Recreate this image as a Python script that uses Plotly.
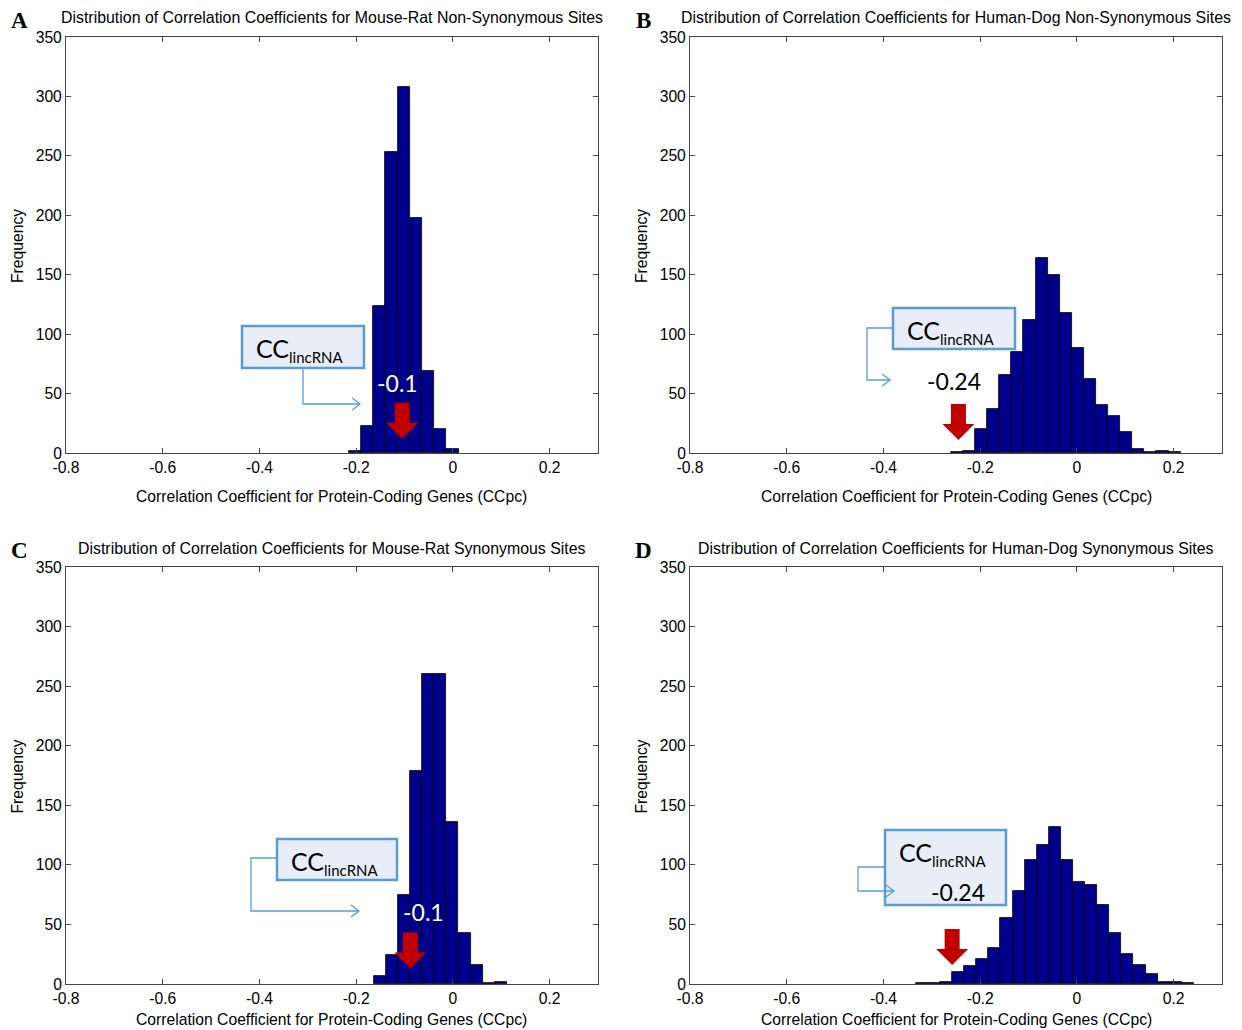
import plotly.graph_objects as go

# page body has an 8px margin, so the figure is offset by it inside the window
OFF = 8
W, H = 1242 - OFF, 1030 - OFF

# ---------------- data ----------------
a_centers = [-0.2026, -0.1774, -0.1522, -0.1270, -0.1018, -0.0766, -0.0514, -0.0262, -0.0010]
a_counts = [2, 23, 124, 253, 308, 198, 69, 20, 3]

b_centers = [-0.248, -0.223, -0.198, -0.173, -0.148, -0.123, -0.098, -0.073, -0.048, -0.023,
             0.002, 0.027, 0.052, 0.077, 0.102, 0.127, 0.152, 0.177, 0.202]
b_counts = [1, 2, 20, 37, 66, 85, 112, 164, 150, 118, 88, 62, 40, 31, 18, 3, 1, 2, 1]

c_centers = [-0.1516, -0.1265, -0.1014, -0.0764, -0.0513, -0.0262, -0.0011, 0.0240, 0.0490, 0.0741, 0.0992]
c_counts = [7, 24, 75, 179, 260, 260, 136, 43, 16, 1, 2]

d_centers = [-0.3205, -0.2955, -0.2705, -0.2455, -0.2205, -0.1955, -0.1705, -0.1455, -0.1205, -0.0955,
             -0.0705, -0.0455, -0.0205, 0.0045, 0.0295, 0.0545, 0.0795, 0.1045, 0.1295, 0.1545,
             0.1795, 0.2045, 0.2295]
d_counts = [1, 1, 2, 10, 15, 21, 30, 55, 78, 104, 117, 132, 104, 86, 83, 66, 43, 25, 16, 8, 2, 2, 1]

bin_widths = [0.0252, 0.025, 0.0251, 0.025]

titles = [
    "Distribution of Correlation Coefficients for Mouse-Rat Non-Synonymous Sites",
    "Distribution of Correlation Coefficients for Human-Dog Non-Synonymous Sites",
    "Distribution of Correlation Coefficients for Mouse-Rat Synonymous Sites",
    "Distribution of Correlation Coefficients for Human-Dog Synonymous Sites",
]
panel_letters = ["A", "B", "C", "D"]
cc_lincrna_labels = ["-0.1", "-0.24", "-0.1", "-0.24"]
arrow_x = [-0.105, -0.245, -0.088, -0.258]     # red arrow position (CC_lincRNA)
arrow_tip_y = [12, 11, 13, 16]

x_tickvals = [-0.8, -0.6, -0.4, -0.2, 0, 0.2]
x_ticktext = ["-0.8", "-0.6", "-0.4", "-0.2", "0", "0.2"]
y_tickvals = [0, 50, 100, 150, 200, 250, 300, 350]
x_range = [-0.8, 0.3]
y_range = [0, 350]
xlabel = "Correlation Coefficient for Protein-Coding Genes (CCpc)"
ylabel = "Frequency"

centers = [a_centers, b_centers, c_centers, d_centers]
counts = [a_counts, b_counts, c_counts, d_counts]

# ---------------- layout geometry (window pixels) ----------------
areas = [(66, 598, 37, 453), (690, 1222, 37, 453), (66, 598, 567, 984), (690, 1222, 567, 984)]


def px(x):
    return (x - OFF) / W


def py(y):
    return 1 - (y - OFF) / H


AX_FONT = "Liberation Sans, Arial, sans-serif"
CALLOUT_FONT = "Lato, Open Sans, sans-serif"
BAR_COLOR = "rgb(0,0,140)"
CALLOUT_LINE = "#5b9bd5"
CALLOUT_FILL = "#e8edf7"
TXT = 15.7

fig = go.Figure()
layout = dict(width=W, height=H, margin=dict(l=0, r=0, t=0, b=0, autoexpand=False),
              paper_bgcolor="white", plot_bgcolor="white", showlegend=False,
              bargap=0, shapes=[], annotations=[])

for i in range(4):
    l, r, t, b = areas[i]
    sfx = "" if i == 0 else str(i + 1)
    xa, ya = "x" + sfx, "y" + sfx
    fig.add_trace(go.Bar(x=centers[i], y=counts[i], width=bin_widths[i], xaxis=xa, yaxis=ya,
                         marker=dict(color=BAR_COLOR, line=dict(color="black", width=0.8)),
                         hoverinfo="x+y"))
    common = dict(showgrid=False, zeroline=False, showline=True, linecolor="#444", linewidth=1,
                  mirror="ticks", ticks="inside", ticklen=5, tickcolor="#444", automargin=False,
                  tickfont=dict(family=AX_FONT, size=TXT, color="black"))
    layout["xaxis" + sfx] = dict(common, domain=[px(l), px(r)], range=x_range, anchor=ya,
                                 tickvals=x_tickvals, ticktext=x_ticktext)
    layout["yaxis" + sfx] = dict(common, domain=[py(b), py(t)], range=y_range, anchor=xa,
                                 tickvals=y_tickvals)
    layout["annotations"].append(dict(text=titles[i], xref="paper", yref="paper",
                                      x=px((l + r) / 2), y=py(t - 19), showarrow=False,
                                      font=dict(family=AX_FONT, size=15.9, color="black"),
                                      xanchor="center", yanchor="middle"))
    layout["annotations"].append(dict(text="<b>" + panel_letters[i] + "</b>", xref="paper", yref="paper",
                                      x=px(l - 47), y=py(t - 17), showarrow=False,
                                      font=dict(family="Liberation Serif, Times New Roman, serif",
                                                size=23, color="black"),
                                      xanchor="center", yanchor="middle"))
    xl_y = b + 44 if i < 2 else b + 35
    layout["annotations"].append(dict(text=xlabel, xref="paper", yref="paper",
                                      x=px((l + r) / 2), y=py(xl_y), showarrow=False,
                                      font=dict(family=AX_FONT, size=TXT, color="black"),
                                      xanchor="center", yanchor="middle"))
    layout["annotations"].append(dict(text=ylabel, xref="paper", yref="paper",
                                      x=px(l - 49), y=py((t + b) / 2 + 1), showarrow=False,
                                      textangle=-90,
                                      font=dict(family=AX_FONT, size=TXT, color="black"),
                                      xanchor="center", yanchor="middle"))
    layout["shapes"].append(dict(type="path", xref=xa, yref=ya, xsizemode="pixel", ysizemode="pixel",
                                 xanchor=arrow_x[i], yanchor=arrow_tip_y[i],
                                 path="M 0 0 L -16 16 L -7.5 16 L -7.5 36 L 7.5 36 L 7.5 16 L 16 16 Z",
                                 fillcolor="#c00000", line=dict(width=0), layer="above"))

# ---------------- callouts (window pixel geometry) ----------------
callouts = [
    dict(box=(242, 326, 364, 368), line=[(303, 368), (303, 404), (360, 404)],
         val=(397, 383), val_color="white"),
    dict(box=(893, 308, 1015, 349), line=[(893, 328), (867, 328), (867, 380), (890, 380)],
         val=(954, 381), val_color="black"),
    dict(box=(277, 839, 397, 880), line=[(277, 858), (251, 858), (251, 911), (359, 911)],
         val=(423, 912), val_color="white"),
    dict(box=(885, 830, 1006, 905), line=[(885, 867), (858, 867), (858, 891), (894, 891)],
         val=(958, 892), val_color="black"),
]

for i, c in enumerate(callouts):
    x0, y0, x1, y1 = c["box"]
    layout["shapes"].append(dict(type="rect", xref="paper", yref="paper",
                                 x0=px(x0), x1=px(x1), y0=py(y1), y1=py(y0),
                                 fillcolor=CALLOUT_FILL, line=dict(color=CALLOUT_LINE, width=2.5),
                                 layer="above"))
    pts = c["line"]
    path = "M " + " L ".join(f"{px(xx)} {py(yy)}" for xx, yy in pts)
    layout["shapes"].append(dict(type="path", xref="paper", yref="paper", path=path,
                                 line=dict(color=CALLOUT_LINE, width=1.3), layer="above"))
    ex, ey = pts[-1]
    head = f"M {px(ex - 8)} {py(ey - 6)} L {px(ex)} {py(ey)} L {px(ex - 8)} {py(ey + 6)}"
    layout["shapes"].append(dict(type="path", xref="paper", yref="paper", path=head,
                                 line=dict(color=CALLOUT_LINE, width=1.3), layer="above"))
    layout["annotations"].append(dict(
        text="CC<sub><span style='font-size:15px'>lincRNA</span></sub>",
        xref="paper", yref="paper", x=px(x0 + 12), y=py(y0 + 23), showarrow=False,
        xanchor="left", yanchor="middle", font=dict(family=CALLOUT_FONT, size=25, color="black")))
    vx, vy = c["val"]
    layout["annotations"].append(dict(text=cc_lincrna_labels[i], xref="paper", yref="paper",
                                      x=px(vx), y=py(vy), showarrow=False,
                                      xanchor="center", yanchor="middle",
                                      font=dict(family=CALLOUT_FONT, size=23, color=c["val_color"])))

fig.update_layout(**layout)
fig.write_html("out.html")
